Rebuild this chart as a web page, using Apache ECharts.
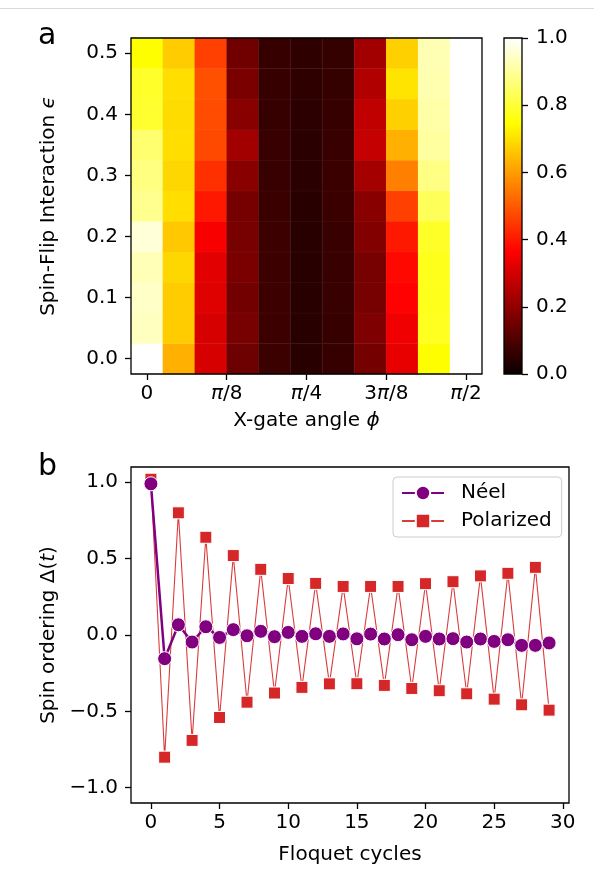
<!DOCTYPE html>
<html><head><meta charset="utf-8">
<script src="https://cdn.jsdelivr.net/npm/echarts@6/dist/echarts.min.js"></script>
<style>html,body{margin:0;padding:0;background:#fff}#c{width:594px;height:884px}</style>
</head><body><div id="c"></div>
<script>
// ---------- Panel a data ----------
const phiIndex = [0,1,2,3,4,5,6,7,8,9,10];          // phi = index * pi/20
const epsValues = [0.00,0.05,0.10,0.15,0.20,0.25,0.30,0.35,0.40,0.45,0.50];
const phiTickPos = [0,2.5,5,7.5,10];
const phiTickLabels = ['0','{i|π}/8','{i|π}/4','3{i|π}/8','{i|π}/2'];
const epsTicks = [0.0,0.1,0.2,0.3,0.4,0.5];
const cbarTicks = [0.0,0.2,0.4,0.6,0.8,1.0];
// each row: values across phi index 0..10
const rowEps000 = [1.000,0.628,0.306,0.148,0.072,0.046,0.064,0.157,0.331,0.746,1.0];
const rowEps005 = [0.937,0.671,0.304,0.162,0.074,0.045,0.066,0.172,0.343,0.778,1.0];
const rowEps010 = [0.945,0.671,0.318,0.155,0.074,0.044,0.068,0.162,0.366,0.774,1.0];
const rowEps015 = [0.929,0.686,0.323,0.166,0.076,0.044,0.068,0.162,0.377,0.774,1.0];
const rowEps020 = [0.961,0.664,0.357,0.162,0.075,0.044,0.068,0.181,0.401,0.786,1.0];
const rowEps025 = [0.889,0.697,0.401,0.160,0.070,0.046,0.070,0.187,0.461,0.834,1.0];
const rowEps030 = [0.874,0.686,0.437,0.189,0.068,0.048,0.070,0.229,0.556,0.877,1.0];
const rowEps035 = [0.858,0.697,0.473,0.226,0.068,0.048,0.068,0.277,0.628,0.905,1.0];
const rowEps040 = [0.794,0.694,0.479,0.187,0.066,0.050,0.066,0.271,0.676,0.913,1.0];
const rowEps045 = [0.788,0.697,0.485,0.166,0.066,0.052,0.062,0.247,0.706,0.921,1.0];
const rowEps050 = [0.746,0.670,0.461,0.151,0.066,0.055,0.062,0.226,0.676,0.925,1.0];
const heatRows = [rowEps000,rowEps005,rowEps010,rowEps015,rowEps020,rowEps025,rowEps030,rowEps035,rowEps040,rowEps045,rowEps050];

// ---------- Panel b data ----------
const cycles = [0,1,2,3,4,5,6,7,8,9,10,11,12,13,14,15,16,17,18,19,20,21,22,23,24,25,26,27,28,29];
const neel = [0.99,-0.155,0.067,-0.046,0.054,-0.016,0.035,-0.005,0.024,-0.011,0.017,-0.009,0.008,-0.009,0.007,-0.025,0.006,-0.026,0.002,-0.031,-0.009,-0.026,-0.024,-0.046,-0.026,-0.042,-0.031,-0.068,-0.068,-0.052];
const polarized = [1.02,-0.80,0.80,-0.69,0.64,-0.54,0.52,-0.44,0.43,-0.38,0.37,-0.343,0.338,-0.32,0.318,-0.319,0.318,-0.33,0.318,-0.35,0.336,-0.365,0.349,-0.385,0.387,-0.42,0.404,-0.457,0.443,-0.492];
const xTicksB = [0,5,10,15,20,25,30];
const yTicksB = [-1.0,-0.5,0.0,0.5,1.0];

// ---------- styling helpers ----------
const FONT = 'DejaVu Sans';
const FS = 20;
function hot(v){
  const r = v < 0.365079 ? 0.0416 + (1-0.0416)*v/0.365079 : 1;
  const g = v < 0.365079 ? 0 : (v < 0.746032 ? (v-0.365079)/(0.746032-0.365079) : 1);
  const b = v < 0.746032 ? 0 : (v-0.746032)/(1-0.746032);
  return 'rgb(' + Math.round(r*255) + ',' + Math.round(g*255) + ',' + Math.round(b*255) + ')';
}
const hotColors = [];
for (let i = 0; i < 256; i++) hotColors.push(hot(i/255));
const fmt1 = v => v.toFixed(1).replace('-', '−');

const heatData = [];
heatRows.forEach((row, r) => row.forEach((v, c) => heatData.push([c, r, v])));

const G0 = {left:131, top:38, width:351, height:336};
const GC = {left:504, top:38, width:18, height:336};
const G1 = {left:131, top:467, width:438, height:336};

const tickStyle = {show:true, inside:false, length:6, lineStyle:{color:'#000', width:1.3}};
const noLine = {show:false, onZero:false};
const labelBase = {color:'#000', fontFamily:FONT, fontSize:FS};
const italic = {i:{fontStyle:'italic', fontFamily:FONT, fontSize:FS, color:'#000'}};
const nameStyle = {color:'#000', fontFamily:FONT, fontSize:FS, rich:italic};

const chart = echarts.init(document.getElementById('c'), null, {renderer:'canvas'});
chart.setOption({
  animation:false,
  backgroundColor:'#fff',
  grid:[
    Object.assign({show:true, z:10, borderColor:'#000', borderWidth:1.3, backgroundColor:'transparent'}, G0),
    Object.assign({show:true, z:10, borderColor:'#000', borderWidth:1.3, backgroundColor:'transparent'}, GC),
    Object.assign({show:true, borderColor:'#000', borderWidth:1.3, backgroundColor:'transparent'}, G1)
  ],
  xAxis:[
    {type:'category', gridIndex:0, data:phiIndex, show:false, position:'top', axisLine:noLine},
    {type:'value', gridIndex:0, min:-0.5, max:10.5, position:'bottom',
      axisLine:noLine, splitLine:{show:false},
      axisTick:Object.assign({customValues:phiTickPos}, tickStyle),
      axisLabel:Object.assign({customValues:phiTickPos, margin:10,
        formatter:v => phiTickLabels[phiTickPos.indexOf(v)], rich:italic}, labelBase),
      name:'X-gate angle {i|ϕ}', nameLocation:'middle', nameGap:37, nameTextStyle:nameStyle},
    {type:'value', gridIndex:1, min:0, max:1, show:false, axisLine:noLine},
    {type:'value', gridIndex:2, min:-1.45, max:30.45, position:'bottom',
      axisLine:noLine, splitLine:{show:false},
      axisTick:Object.assign({customValues:xTicksB}, tickStyle),
      axisLabel:Object.assign({customValues:xTicksB, margin:10}, labelBase),
      name:'Floquet cycles', nameLocation:'middle', nameGap:42, nameTextStyle:nameStyle}
  ],
  yAxis:[
    {type:'category', gridIndex:0, data:epsValues, show:false, position:'right', axisLine:noLine},
    {type:'value', gridIndex:0, min:-0.025, max:0.525, position:'left',
      axisLine:noLine, splitLine:{show:false},
      axisTick:Object.assign({customValues:epsTicks}, tickStyle),
      axisLabel:Object.assign({customValues:epsTicks, margin:13, formatter:fmt1}, labelBase),
      name:'Spin-Flip Interaction {i|ϵ}', nameLocation:'middle', nameGap:72, nameTextStyle:nameStyle},
    {type:'value', gridIndex:1, min:0, max:1, position:'right',
      axisLine:noLine, splitLine:{show:false},
      axisTick:Object.assign({customValues:cbarTicks}, tickStyle),
      axisLabel:Object.assign({customValues:cbarTicks, margin:14, formatter:fmt1}, labelBase)},
    {type:'value', gridIndex:2, min:-1.1, max:1.1, position:'left',
      axisLine:noLine, splitLine:{show:false},
      axisTick:Object.assign({customValues:yTicksB}, tickStyle),
      axisLabel:Object.assign({customValues:yTicksB, margin:13, formatter:fmt1}, labelBase),
      name:'Spin ordering Δ({i|t})', nameLocation:'middle', nameGap:72, nameTextStyle:nameStyle}
  ],
  visualMap:{show:false, type:'continuous', min:0, max:1, seriesIndex:0, dimension:2,
    inRange:{color:hotColors}},
  legend:{
    orient:'vertical', left:393, top:477, padding:[6,10,6,8],
    itemWidth:42, itemHeight:18, itemGap:8,
    backgroundColor:'rgba(255,255,255,0.8)', borderColor:'#cccccc', borderWidth:1, borderRadius:4,
    textStyle:{fontFamily:FONT, fontSize:FS, color:'#000', padding:[0,0,0,12]},
    data:['Néel','Polarized']
  },
  series:[
    {type:'heatmap', xAxisIndex:0, yAxisIndex:0, data:heatData, progressive:0,
      itemStyle:{borderColor:'rgba(255,255,255,0.07)', borderWidth:0.6},
      emphasis:{disabled:true}},
    {type:'line', name:'Polarized', xAxisIndex:3, yAxisIndex:3, z:3,
      data:cycles.map((c,i) => [c, polarized[i]]),
      symbol:'rect', symbolSize:12, showAllSymbol:true,
      lineStyle:{color:'#d62728', width:1.1, opacity:0.9},
      itemStyle:{color:'#d62728', borderColor:'#fff', borderWidth:1}},
    {type:'line', name:'Néel', xAxisIndex:3, yAxisIndex:3, z:4,
      data:cycles.map((c,i) => [c, neel[i]]),
      symbol:'circle', symbolSize:14, showAllSymbol:true,
      lineStyle:{color:'#800080', width:2.5},
      itemStyle:{color:'#800080', borderColor:'#fff', borderWidth:1}}
  ],
  graphic:[
    {type:'line', shape:{x1:0, y1:8.5, x2:594, y2:8.5}, style:{stroke:'#d9d9d9', lineWidth:1}, silent:true},
    {type:'rect', z:1, shape:{x:GC.left, y:GC.top, width:GC.width, height:GC.height},
      style:{fill:new echarts.graphic.LinearGradient(0,1,0,0,[
        {offset:0, color:hot(0)}, {offset:0.365079, color:hot(0.365079)},
        {offset:0.746032, color:hot(0.746032)}, {offset:1, color:hot(1)}])}, silent:true},
    {type:'text', left:38, top:21, style:{text:'a', fontFamily:FONT, fontSize:30, fill:'#000'}},
    {type:'text', left:38, top:452, style:{text:'b', fontFamily:FONT, fontSize:30, fill:'#000'}}
  ]
});
</script>
</body></html>
